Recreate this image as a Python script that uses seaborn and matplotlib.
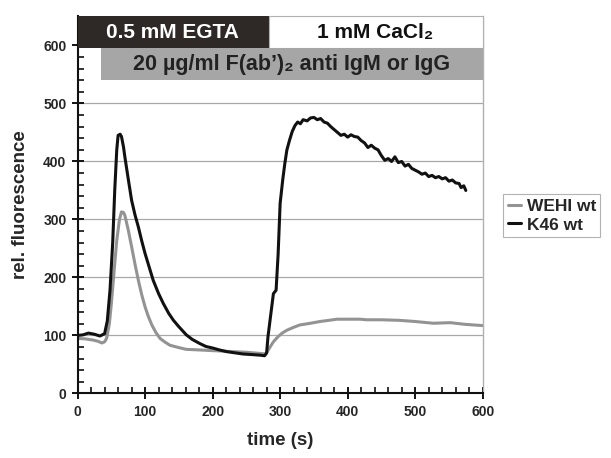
import numpy as np
import pandas as pd
import matplotlib
matplotlib.use("Agg")
import matplotlib.pyplot as plt
from matplotlib.patches import Rectangle
from matplotlib.ticker import MultipleLocator
from matplotlib.lines import Line2D
import seaborn as sns

# ---- data ----
wehi_t = [0, 12, 23, 30, 36, 40, 43, 47, 50, 54, 58, 62, 65, 68, 70, 75, 80, 85, 90, 95, 100, 105, 110, 116, 122,
          130, 137, 150, 161, 180, 196, 215, 231, 250, 270, 279, 284, 290, 297, 303, 310, 320, 329, 345, 359, 372,
          384, 400, 418, 428, 450, 477, 500, 527, 552, 575, 600]
wehi_y = [95, 94, 92, 90, 87, 89, 95, 120, 155, 210, 264, 300, 313, 312, 307, 282, 253, 223, 195, 170, 149, 132, 118,
          105, 95, 88, 83, 79, 76, 75, 74, 73, 72, 71, 69, 68, 78, 89, 98, 104, 109, 114, 118, 121, 124, 126,
          128, 128, 128, 127, 127, 126, 124, 121, 122, 119, 117]

k46_t = [0, 8, 16, 25, 33, 40, 44, 48, 52, 55, 58, 60, 63, 65, 68, 70, 75, 80, 85, 90, 95, 100, 106, 112, 120, 127,
         135, 142, 150, 161, 170, 181, 190, 201, 210, 221, 233, 245, 258, 270, 277, 280, 282, 286, 290, 294, 297, 300,
         304, 307, 310, 314, 318, 322, 326, 330, 334, 340, 345, 350, 355, 360, 365, 370, 375, 380, 385, 390, 395,
         400, 405, 410, 415, 420, 425, 430, 435, 440, 445, 450, 455, 460, 465, 470, 475, 480, 485, 490, 495, 500,
         505, 510, 515, 520, 525, 530, 535, 540, 545, 550, 555, 560, 565, 568, 572, 575]
k46_y = [100, 101, 104, 102, 99, 103, 125, 178, 260, 350, 420, 445, 447, 443, 425, 408, 370, 333, 308, 287, 263, 241,
         218, 195, 172, 155, 138, 126, 115, 101, 93, 86, 81, 78, 75, 72, 70, 68, 67, 66, 65, 70, 98, 135, 172,
         178, 240, 328, 370, 397, 420, 437, 452, 462, 468, 465, 472, 470, 475, 476, 472, 474, 468, 466, 460, 455,
         450, 445, 447, 442, 446, 443, 442, 436, 432, 424, 428, 423, 420, 410, 402, 405, 400, 408, 398, 400, 392,
         395, 388, 385, 382, 378, 380, 374, 376, 372, 374, 370, 372, 366, 368, 363, 362, 355, 358, 350]

series_names = ["WEHI wt", "K46 wt"]
series_colors = ["#939393", "#111111"]

df = pd.concat([
    pd.DataFrame({"time": wehi_t, "fl": wehi_y, "line": series_names[0]}),
    pd.DataFrame({"time": k46_t, "fl": k46_y, "line": series_names[1]}),
], ignore_index=True)

# ---- style ----
sns.set_style("white")
plt.rcParams["font.family"] = ["Liberation Sans", "DejaVu Sans"]
plt.rcParams["font.weight"] = "bold"

fig = plt.figure(figsize=(6.11, 4.58), dpi=100)
ax = fig.add_axes([0.127, 0.141, 0.663, 0.823])

for y in [100, 200, 300, 400, 500]:
    ax.axhline(y, color="#a8a8a8", lw=0.9, zorder=0)

sns.lineplot(data=df, x="time", y="fl", hue="line", palette=dict(zip(series_names, series_colors)),
             sort=False, estimator=None, lw=2.2, ax=ax, legend=False)

ax.set_xlim(0, 600)
ax.set_ylim(0, 650)
ax.set_xticks(range(0, 601, 100))
ax.set_yticks(range(0, 601, 100))
ax.xaxis.set_minor_locator(MultipleLocator(20))
ax.yaxis.set_minor_locator(MultipleLocator(20))
ax.tick_params(which="major", direction="inout", length=8, width=1.4, color="#111111",
               labelsize=10, pad=4, bottom=True, left=True)
ax.tick_params(which="minor", direction="in", length=4, width=1.2, color="#111111",
               bottom=True, left=True)
for lab in ax.get_xticklabels() + ax.get_yticklabels():
    lab.set_fontweight("bold")
ax.set_xlabel("time (s)", fontsize=13.5, fontweight="bold", labelpad=10)
ax.set_ylabel("rel. fluorescence", fontsize=13.5, fontweight="bold", labelpad=10)

for s in ["left", "bottom"]:
    ax.spines[s].set_color("#111111")
    ax.spines[s].set_linewidth(1.5)
ax.spines["right"].set_color("#b0b0b0")
ax.spines["right"].set_linewidth(1.0)
ax.spines["top"].set_visible(False)

# ---- condition banners ----
ax.add_patch(Rectangle((0, 595), 283, 55, facecolor="#2e2927", edgecolor="none", clip_on=False, zorder=5))
ax.add_patch(Rectangle((283, 595), 317, 55, facecolor="white", edgecolor="#b0b0b0", lw=0.8, clip_on=False, zorder=5))
ax.add_patch(Rectangle((35, 540), 565, 55, facecolor="#a6a6a6", edgecolor="none", clip_on=False, zorder=5))
ax.text(141, 622, "0.5 mM EGTA", color="white", fontsize=15, fontweight="bold", ha="center", va="center", zorder=6)
ax.text(441, 622, "1 mM CaCl\u2082", color="#111111", fontsize=15, fontweight="bold",
        ha="center", va="center", zorder=6)
ax.text(317, 567, "20 µg/ml F(ab’)\u2082 anti IgM or IgG", color="#222222", fontsize=15.5,
        fontweight="bold", ha="center", va="center", zorder=6)

# ---- legend ----
handles = [Line2D([0], [0], color=c, lw=2.2) for c in series_colors]
leg = fig.legend(handles, series_names, loc="upper left", bbox_to_anchor=(0.818, 0.583),
                 frameon=True, fancybox=False, edgecolor="#a0a0a0", handlelength=0.8,
                 handletextpad=0.3, borderpad=0.25, borderaxespad=0.2, labelspacing=0.2,
                 prop={"weight": "bold", "size": 12.5})
leg.get_frame().set_linewidth(0.8)

fig.savefig("out.png", dpi=100)
